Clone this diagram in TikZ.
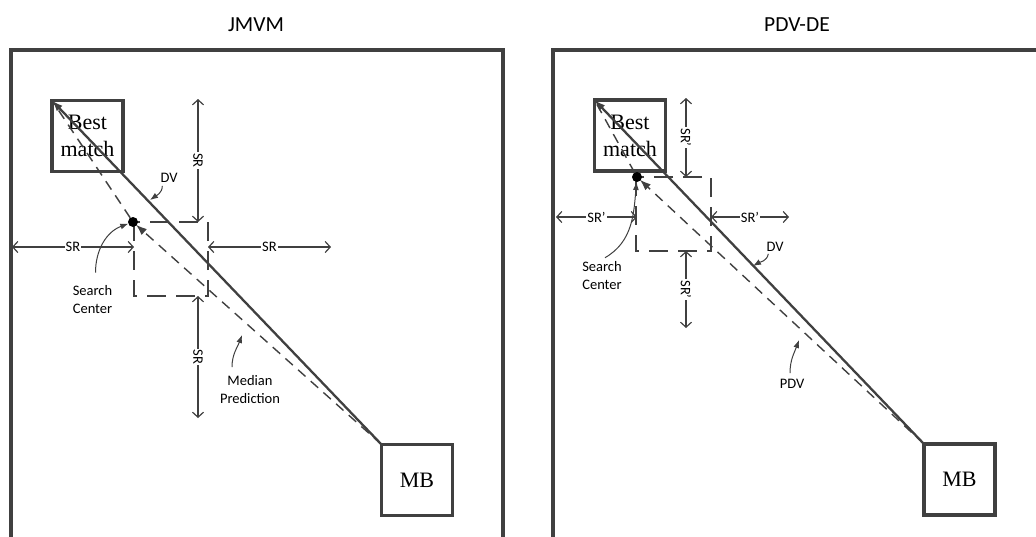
\documentclass[tikz,border=0pt]{standalone}
\usepackage{fontspec}
\setmainfont{Carlito}
\newfontfamily\boxfont{Liberation Serif}
\usetikzlibrary{arrows.meta}
\definecolor{ink}{HTML}{404040}
\begin{document}
\begin{tikzpicture}[x=1pt,y=-1pt,
  frame/.style={draw=ink,line width=3.6pt},
  box/.style={draw=ink,line width=3.8pt,minimum size=71pt,inner sep=0pt,outer sep=0pt,
    align=center,font=\boxfont\fontsize{22}{27}\selectfont},
  window/.style={draw=ink,line width=2.6pt,dash pattern=on 19pt off 10pt},
  dot/.style={circle,fill=black,minimum size=10pt,inner sep=0pt,outer sep=0pt},
  dvline/.style={draw=ink,line width=2.3pt,-{Latex[length=11pt,width=8pt]}},
  thindash/.style={draw=ink,line width=1.4pt,dash pattern=on 10pt off 7pt},
  predarrow/.style={thindash,-{Latex[length=11pt,width=8pt]},shorten >=-1pt},
  dimarrow/.style={draw=ink,line width=1.2pt,
    {Straight Barb[length=5pt,width=11pt]}-{Straight Barb[length=5pt,width=11pt]}},
  srlab/.style={fill=white,inner sep=1pt,font=\fontsize{14.5}{17}\selectfont},
  lab/.style={inner sep=1pt,align=center,font=\fontsize{14.5}{18}\selectfont},
  ttl/.style={inner sep=1pt,font=\fontsize{21.5}{25}\selectfont},
  pointer/.style={draw=ink,line width=1pt,-{Latex[length=8pt,width=6pt]}}
]
\useasboundingbox (0,0) rectangle (1036,536);

% ---------------- titles ----------------
\node[ttl] (t1) at (256,25) {JMVM};
\node[ttl] (t2) at (797,25) {PDV-DE};

% ---------------- frames ----------------
\draw[frame] (11,540) -- (11,50) -- (503,50) -- (503,540);
\draw[frame] (553,540) -- (553,50) -- (1040,50);

% ================= LEFT PANEL (JMVM) =================
\node[box] (bm1) at (87.5,136) {Best\\match};
\node[box] (mb1) at (417,480) {MB};
\draw[window] (134,222) rectangle (208,296);
\node[dot] (sc1) at (133,222) {};

\draw[thindash] (sc1) -- (bm1.north west);
\draw[predarrow] (mb1.north west) -- (sc1);
\draw[dvline] (mb1.north west) -- (bm1.north west);

\draw[dimarrow] (198,99) -- node[srlab,rotate=-90] {SR} (198,222);
\draw[dimarrow] (198,296) -- node[srlab,rotate=-90] {SR} (198,418);
\draw[dimarrow] (12,247) -- node[srlab] {SR} (134,247);
\draw[dimarrow] (208,247) -- node[srlab] {SR} (331,247);

\node[lab] (dvl1) at (169,178) {DV};
\node[lab] (scl1) at (92.5,300) {Search\\Center};
\node[lab] (mpl) at (250,389.5) {Median\\Prediction};
\coordinate (dvp1) at (150,200);
\coordinate (mpp) at (242,335);
\draw[pointer] ([shift={(3,2)}]dvl1.south west) to[out=-90,in=35] (dvp1);
\draw[pointer] ([shift={(3,-12)}]scl1.north) to[out=90,in=200] (sc1);
\draw[pointer] ([shift={(-18,-7)}]mpl.north) to[out=90,in=-110] (mpp);

% ================= RIGHT PANEL (PDV-DE) =================
\node[box] (bm2) at (630,135.5) {Best\\match};
\node[box] (mb2) at (959.5,479.5) {MB};
\draw[window] (636,177) rectangle (711,251);
\node[dot] (sc2) at (637,177) {};

\draw[thindash] (sc2) -- (bm2.north west);
\draw[predarrow] (mb2.north west) -- (sc2);
\draw[dvline] (mb2.north west) -- (bm2.north west);

\draw[dimarrow] (686,98) -- node[srlab,rotate=-90] {SR’} (686,177);
\draw[dimarrow] (686,251) -- node[srlab,rotate=-90] {SR’} (686,328);
\draw[dimarrow] (556,217) -- node[srlab] {SR’} (637,217);
\draw[dimarrow] (711,217) -- node[srlab] {SR’} (789,217);

\node[lab] (dvl2) at (775,247) {DV};
\node[lab] (scl2) at (602,276) {Search\\Center};
\node[lab] (pdvl) at (792,384) {PDV};
\coordinate (dvp2) at (753,266);
\coordinate (pdvp) at (799,340);
\draw[pointer] ([shift={(3,1)}]dvl2.south west) to[out=-100,in=30] (dvp2);
\draw[pointer] ([shift={(3,-3)}]scl2.north) to[out=30,in=-95] (sc2);
\draw[pointer] ([shift={(-2,-5)}]pdvl.north) to[out=90,in=-110] (pdvp);
\end{tikzpicture}
\end{document}
